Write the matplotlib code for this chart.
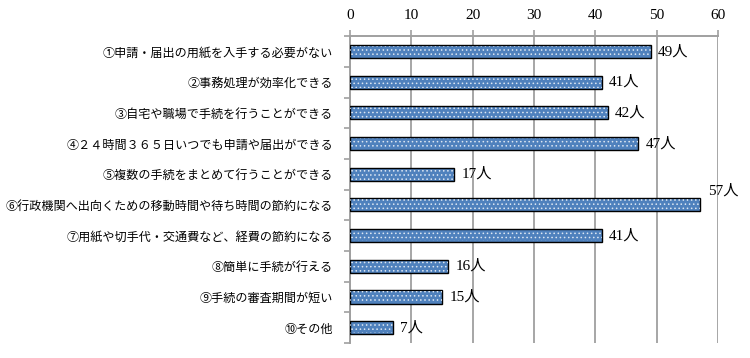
import matplotlib.pyplot as plt
import numpy as np

labels = [
    "①申請・届出の用紙を入手する必要がない",
    "②事務処理が効率化できる",
    "③自宅や職場で手続を行うことができる",
    "④２４時間３６５日いつでも申請や届出ができる",
    "⑤複数の手続をまとめて行うことができる",
    "⑥行政機関へ出向くための移動時間や待ち時間の節約になる",
    "⑦用紙や切手代・交通費など、経費の節約になる",
    "⑧簡単に手続が行える",
    "⑨手続の審査期間が短い",
    "⑩その他",
]
counts = [49, 41, 42, 47, 17, 57, 41, 16, 15, 7]
xticks = [0, 10, 20, 30, 40, 50, 60]

cjk = ["Noto Sans CJK JP", "DejaVu Sans"]
num_font = ["Liberation Serif", "Noto Sans CJK JP"]

plt.rcParams["hatch.linewidth"] = 0.6

fig = plt.figure(figsize=(7.5, 3.58), dpi=100)
ax = fig.add_axes([0.4667, 0.042, 0.4907, 0.857])

y = np.arange(len(labels))
# blue bars with black edge, then white dotted overlay
ax.barh(y, counts, height=0.43, color="#4f81bd", edgecolor="black",
        linewidth=1.0, zorder=3)
ax.barh(y, counts, height=0.36, color="none", edgecolor="#dce6f2",
        hatch="....", linewidth=0, zorder=4)

for i, v in enumerate(counts):
    if v == max(counts):
        ax.text(v + 1.3, i - 0.47, f"{v}人", va="center", ha="left",
                fontsize=11, family=num_font, zorder=5)
    else:
        ax.text(v + 1.2, i, f"{v}人", va="center", ha="left",
                fontsize=11, family=num_font, zorder=5)

ax.set_xlim(0, 60)
ax.set_ylim(len(labels) - 0.5, -0.5)
ax.xaxis.tick_top()
ax.set_xticks(xticks)
ax.set_xticklabels([str(t) for t in xticks], family=num_font, fontsize=11)
ax.tick_params(axis="x", length=4, color="#a0a0a0", width=1.2, pad=6)

ax.set_yticks(np.arange(len(labels) + 1) - 0.5, minor=False)
ax.set_yticklabels([])
ax.set_yticks(y, minor=True)
ax.set_yticklabels(labels, minor=True, family=cjk, fontsize=8.7)
ax.tick_params(axis="y", which="major", length=4, color="#a0a0a0", width=1.2)
ax.tick_params(axis="y", which="minor", length=0, pad=12)

ax.grid(axis="x", color="#a6a6a6", linewidth=1.4, zorder=0)
ax.set_axisbelow(True)
for s in ["right", "bottom"]:
    ax.spines[s].set_visible(False)
for s in ["top", "left"]:
    ax.spines[s].set_color("#a0a0a0")
    ax.spines[s].set_linewidth(1.4)

fig.savefig("out.png", dpi=100)
